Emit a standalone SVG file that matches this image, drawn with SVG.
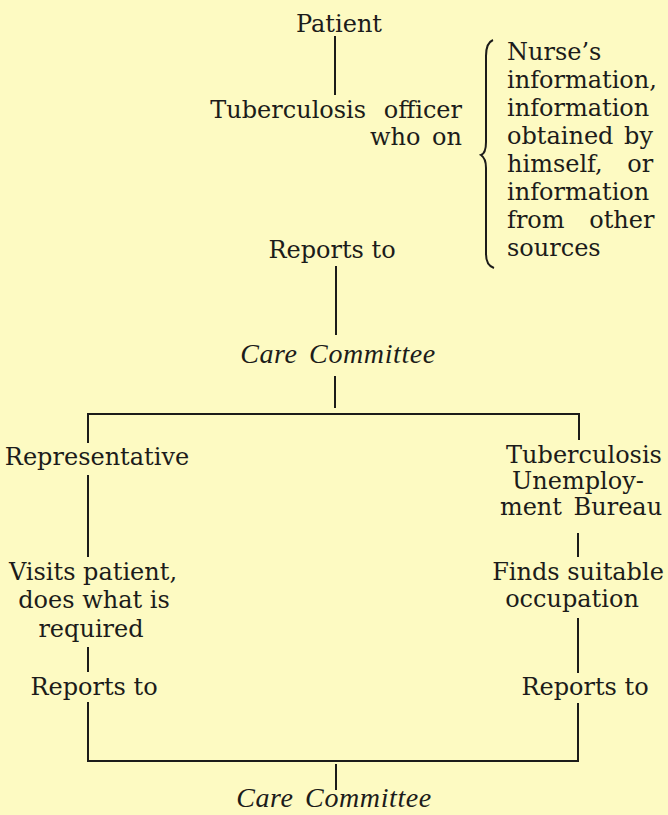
<svg xmlns="http://www.w3.org/2000/svg" width="668" height="815" viewBox="0 0 668 815">
<style>
  .t { font-family: "DejaVu Serif", "Liberation Serif", serif; font-size: 24px; fill: #1c1c1a; }
  .i { font-family: "Liberation Serif", "DejaVu Serif", serif; font-style: italic; font-size: 28px; fill: #1c1c1a; letter-spacing: 0.6px; }
  .c { text-anchor: middle; }
  .e { text-anchor: end; }
  .ln { stroke: #1c1c1a; stroke-width: 2; fill: none; }
</style>
<rect width="668" height="815" fill="#fdfac2"/>

<g id="connectors">
  <line class="ln" x1="335" y1="36" x2="335" y2="95"/>
  <line class="ln" x1="336" y1="266" x2="336" y2="335"/>
  <line class="ln" x1="335" y1="376" x2="335" y2="408"/>
  <line class="ln" x1="88" y1="414" x2="580" y2="414"/>
  <line class="ln" x1="88" y1="413" x2="88" y2="443"/>
  <line class="ln" x1="579" y1="413" x2="579" y2="440"/>
  <line class="ln" x1="88" y1="475" x2="88" y2="557"/>
  <line class="ln" x1="88" y1="647" x2="88" y2="672"/>
  <line class="ln" x1="88" y1="702" x2="88" y2="761"/>
  <line class="ln" x1="578" y1="533" x2="578" y2="557"/>
  <line class="ln" x1="578" y1="618" x2="578" y2="673"/>
  <line class="ln" x1="578" y1="703" x2="578" y2="761"/>
  <line class="ln" x1="87" y1="761" x2="579" y2="761"/>
  <line class="ln" x1="336" y1="764" x2="336" y2="790"/>
  <path class="ln" stroke-width="1.8" d="M 493 40 C 488 42, 486 47, 486 56 L 486 142 C 486 150, 484 154, 481 155 C 484 157, 486 161, 486 168 L 486 254 C 486 261, 488 266, 494 268"/>
</g>

<g id="patient"><text class="t c" x="339" y="32">Patient</text></g>

<g id="tb-officer">
  <text class="t e" x="462" y="118" word-spacing="10">Tuberculosis officer</text>
  <text class="t e" x="462" y="145" word-spacing="4">who on</text>
</g>

<g id="sources">
  <text class="t" x="507" y="60">Nurse’s</text>
  <text class="t" x="507" y="88">information,</text>
  <text class="t" x="507" y="116">information</text>
  <text class="t" x="507" y="144" word-spacing="3">obtained by</text>
  <text class="t" x="507" y="172" word-spacing="17">himself, or</text>
  <text class="t" x="507" y="200">information</text>
  <text class="t" x="507" y="228" word-spacing="17">from other</text>
  <text class="t" x="507" y="256">sources</text>
</g>

<g id="reports-top"><text class="t c" x="332" y="258">Reports to</text></g>

<g id="care-committee-top"><text class="i c" x="338" y="363" word-spacing="4">Care Committee</text></g>

<g id="representative"><text class="t c" x="97" y="465">Representative</text></g>

<g id="visits">
  <text class="t c" x="93" y="580">Visits patient,</text>
  <text class="t c" x="94" y="608">does what is</text>
  <text class="t c" x="91" y="637">required</text>
</g>

<g id="reports-left"><text class="t c" x="94" y="695">Reports to</text></g>

<g id="bureau">
  <text class="t c" x="584" y="463">Tuberculosis</text>
  <text class="t c" x="578" y="489">Unemploy-</text>
  <text class="t c" x="581" y="515" word-spacing="4">ment Bureau</text>
</g>

<g id="finds">
  <text class="t c" x="578" y="580">Finds suitable</text>
  <text class="t c" x="572" y="607">occupation</text>
</g>

<g id="reports-right"><text class="t c" x="585" y="695">Reports to</text></g>

<g id="care-committee-bottom"><text class="i c" x="334" y="807" word-spacing="4">Care Committee</text></g>
</svg>
